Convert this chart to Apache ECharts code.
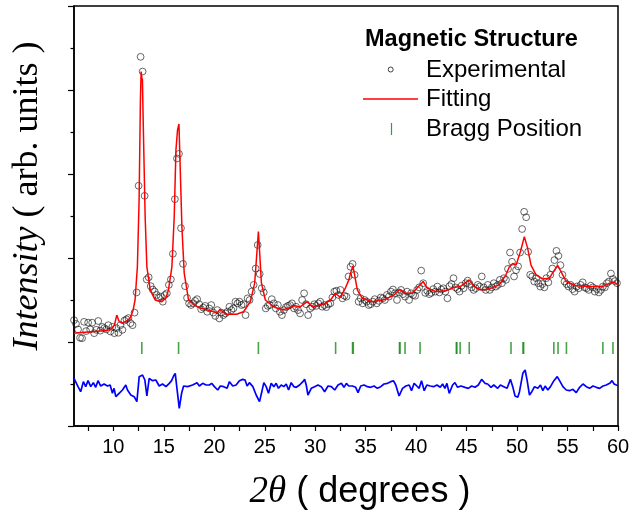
<!DOCTYPE html>
<html>
<head>
<meta charset="utf-8">
<script src="https://cdn.jsdelivr.net/npm/echarts/dist/echarts.min.js"></script>
<style>
html,body{margin:0;padding:0;background:#fff;}
#chart{width:635px;height:514px;}
</style>
</head>
<body>
<div id="chart"></div>
<script>
// ---- data ----
const X_START = 6.1;   // first measured 2theta
const X_STEP = 0.2;    // measurement step (degrees)
const expY = [
2.52,2.43,2.30,2.10,2.09,2.48,2.26,2.46,2.30,2.46,
2.21,2.29,2.50,2.27,2.36,2.33,2.30,2.40,2.25,2.36,
2.21,2.33,2.22,2.40,2.29,2.51,2.54,2.57,2.45,2.40,
2.70,3.18,5.72,8.79,8.44,5.48,3.49,3.54,3.33,3.25,
3.20,3.12,3.05,3.08,2.96,3.12,3.16,3.36,3.49,4.10,
5.40,6.37,6.48,4.71,3.86,3.33,3.05,2.92,2.88,2.92,
2.98,3.02,2.90,2.78,2.82,2.86,2.72,2.80,2.88,2.70,
2.62,2.76,2.56,2.70,2.64,2.68,2.72,2.84,2.76,2.80,
2.96,2.92,2.96,2.88,2.90,2.64,3.04,3.00,3.20,3.36,
3.75,4.31,3.62,3.28,3.18,2.80,2.86,2.88,3.02,2.92,
2.80,2.88,2.72,2.64,2.76,2.83,2.86,2.88,2.92,2.80,
2.84,2.76,2.68,3.00,3.16,2.90,2.64,2.80,2.84,2.90,
2.86,2.92,2.96,2.84,2.88,2.83,2.90,2.92,3.06,3.20,
3.22,3.12,3.24,3.04,3.10,3.08,3.56,3.79,3.86,3.60,
3.20,2.96,3.04,2.92,3.00,2.96,2.88,2.90,2.96,3.02,
2.92,2.98,3.06,3.04,3.00,3.12,3.08,3.20,3.25,3.16,
3.00,3.18,3.24,3.14,3.08,3.20,3.00,3.16,3.12,3.10,
3.24,3.30,3.70,3.40,3.17,3.22,3.14,3.17,3.26,3.20,
3.32,3.18,3.25,3.28,3.20,3.04,3.33,3.38,3.52,3.30,
3.26,3.20,3.34,3.28,3.40,3.46,3.38,3.30,3.24,3.28,
3.36,3.32,3.56,3.30,3.24,3.36,3.24,3.30,3.40,3.32,
3.36,3.48,3.40,3.52,3.48,3.74,4.13,3.91,3.56,3.71,
3.80,4.13,4.69,5.10,4.97,4.15,3.60,3.56,3.44,3.52,
3.40,3.32,3.38,3.30,3.52,3.42,3.60,3.75,3.95,4.17,
4.05,3.83,3.60,3.44,3.38,3.32,3.36,3.26,3.20,3.32,
3.28,3.36,3.42,3.30,3.28,3.24,3.34,3.30,3.20,3.26,
3.18,3.24,3.32,3.30,3.40,3.44,3.63,3.50,3.45,3.40
];
const fitPts = [
[6.1,2.21],[7.5,2.24],[9.0,2.27],[9.7,2.29],[10.1,2.40],[10.34,2.64],[10.55,2.50],[10.83,2.45],[11.3,2.50],[11.66,2.57],
[11.95,2.75],[12.15,3.0],[12.38,3.79],[12.55,5.38],[12.68,7.76],[12.75,8.44],[12.82,8.30],[12.88,8.24],[12.98,6.97],[13.15,4.98],
[13.32,3.79],[13.65,3.24],[14.14,3.0],[14.8,2.96],[15.2,3.05],[15.46,3.24],[15.8,3.79],[16.03,4.98],[16.2,6.57],[16.36,7.05],
[16.5,7.19],[16.62,6.17],[16.79,4.75],[17.02,3.64],[17.45,3.0],[18.0,2.88],[18.6,2.81],[19.93,2.72],[20.3,2.70],[20.6,2.78],
[20.9,2.70],[21.26,2.66],[22.2,2.66],[22.9,2.72],[23.58,2.96],[24.0,3.4],[24.24,4.19],[24.37,4.63],[24.5,4.11],[24.67,3.4],
[25.06,3.0],[25.89,2.84],[26.72,2.76],[27.3,2.80],[27.88,2.86],[28.54,2.84],[29.2,2.96],[29.7,2.84],[30.85,2.90],[31.52,3.0],
[32.0,3.16],[32.5,3.06],[33.0,3.29],[33.33,3.48],[33.5,3.64],[33.73,3.81],[33.93,3.56],[34.17,3.24],[34.67,3.04],[35.66,2.96],
[36.98,3.02],[37.81,3.12],[38.37,3.25],[38.97,3.16],[39.63,3.16],[40.23,3.32],[40.69,3.44],[41.12,3.28],[41.95,3.2],[42.94,3.22],
[43.77,3.30],[44.43,3.33],[45.25,3.48],[45.75,3.32],[46.4,3.24],[47.24,3.26],[48.23,3.36],[48.9,3.6],[49.24,3.79],[49.57,3.87],
[49.9,3.83],[50.33,4.15],[50.72,4.51],[51.05,4.23],[51.38,3.83],[51.88,3.6],[52.54,3.5],[53.2,3.52],[53.7,3.71],[54.03,3.82],
[54.46,3.63],[54.86,3.44],[55.85,3.34],[57.17,3.32],[58.5,3.32],[59.16,3.4],[59.65,3.42],[60.0,3.36]
];
const braggPos = [12.82,16.46,24.37,32.02,33.70,33.77,38.35,38.40,38.90,40.39,43.98,44.03,44.36,45.26,49.40,50.59,50.65,53.64,54.06,54.89,58.50,59.50];
const braggLevel = 1.857;
const diffPts = [
[6.10,1.135],[6.27,1.175],[6.50,0.937],[6.76,0.817],[7.03,1.056],[7.26,0.937],[7.49,1.079],[7.76,0.937],[8.02,1.032],[8.25,0.921],
[8.48,1.079],[8.75,0.952],[9.08,1.0],[9.41,0.952],[9.68,0.976],[9.91,0.778],[10.07,0.897],[10.24,0.698],[10.57,0.778],[10.90,0.857],
[11.23,0.976],[11.40,0.857],[11.73,0.738],[12.06,0.698],[12.33,0.579],[12.56,1.175],[12.89,1.214],[13.12,1.095],[13.32,0.714],[13.55,1.135],
[13.88,1.079],[14.21,1.095],[14.54,0.952],[14.87,1.0],[15.21,0.937],[15.54,1.016],[15.77,1.079],[15.97,1.19],[16.13,1.254],[16.30,0.897],
[16.53,0.421],[16.76,0.778],[16.96,0.952],[17.36,0.937],[17.85,0.976],[18.29,1.032],[18.52,0.952],[18.85,1.016],[19.18,0.976],[19.51,0.976],
[19.74,1.016],[20.01,0.937],[20.34,0.857],[20.60,0.952],[20.93,0.937],[21.27,0.897],[21.50,1.056],[21.83,0.952],[22.16,0.976],[22.49,1.079],
[22.82,1.111],[23.05,1.095],[23.25,0.952],[23.48,1.032],[23.82,0.937],[24.15,0.738],[24.48,0.579],[24.71,0.817],[24.91,1.032],[25.14,0.937],
[25.37,0.778],[25.64,1.016],[25.90,0.937],[26.13,1.016],[26.36,0.897],[26.63,0.976],[26.89,0.937],[27.13,1.0],[27.36,0.857],[27.62,1.032],
[27.89,0.937],[28.12,0.921],[28.45,0.976],[28.78,1.056],[28.95,1.111],[29.11,0.976],[29.28,0.738],[29.61,0.897],[29.94,0.937],[30.27,0.976],
[30.60,0.937],[30.93,0.817],[31.27,0.952],[31.60,0.937],[31.93,0.857],[32.26,0.976],[32.59,1.016],[32.85,0.921],[33.09,1.016],[33.32,0.952],
[33.42,0.937],[33.68,0.952],[34.01,0.921],[34.24,0.794],[34.51,0.952],[34.84,0.976],[35.17,0.937],[35.50,0.921],[35.83,0.952],[36.16,0.897],
[36.49,0.937],[36.82,1.0],[37.16,1.016],[37.49,1.056],[37.75,1.079],[37.98,0.976],[38.31,0.714],[38.65,0.897],[38.98,0.952],[39.31,0.976],
[39.54,0.841],[39.80,1.016],[40.07,0.952],[40.30,0.897],[40.53,1.079],[40.80,0.841],[41.06,0.976],[41.39,0.952],[41.73,0.937],[42.06,0.976],
[42.39,0.921],[42.62,1.0],[42.85,0.897],[43.05,1.016],[43.28,0.778],[43.61,0.976],[43.84,1.032],[44.11,0.921],[44.44,0.952],[44.84,0.921],
[45.17,0.897],[45.50,0.952],[45.83,0.921],[46.16,0.976],[46.49,1.111],[46.82,1.016],[47.09,1.0],[47.42,0.921],[47.69,0.976],[47.82,1.016],
[48.08,0.897],[48.35,0.976],[48.68,0.937],[49.01,0.897],[49.34,1.111],[49.57,0.937],[49.80,0.714],[50.07,0.683],[50.24,0.817],[50.57,1.254],
[50.80,1.333],[51.00,1.079],[51.23,0.738],[51.46,0.817],[51.73,0.937],[52.06,0.897],[52.32,0.976],[52.55,0.841],[52.78,0.952],[53.05,0.857],
[53.31,0.937],[53.65,1.079],[53.98,1.175],[54.21,1.079],[54.54,0.937],[54.87,0.857],[55.20,0.841],[55.53,0.873],[55.86,0.794],[56.20,0.921],
[56.53,1.0],[56.86,0.937],[57.19,0.897],[57.52,0.952],[57.85,0.921],[58.18,0.897],[58.51,0.952],[58.84,0.976],[59.18,1.016],[59.41,1.079],
[59.61,1.0],[59.84,0.976],[60.0,0.960]
];
const xTickValues = [7.5,10,12.5,15,17.5,20,22.5,25,27.5,30,32.5,35,37.5,40,42.5,45,47.5,50,52.5,55,57.5,60];
const xLabelValues = [10,15,20,25,30,35,40,45,50,55,60];
const legendTitle = 'Magnetic Structure';
const legendNames = ['Experimental','Fitting','Bragg Position'];

// ---- chart ----
const expData = expY.map((y, i) => [+(X_START + i * X_STEP).toFixed(2), y]);
const braggData = braggPos.map(p => [p, braggLevel]);

const chart = echarts.init(document.getElementById('chart'), null, {renderer: 'canvas'});
const sans = 'Liberation Sans, Arial, sans-serif';
const serif = 'Liberation Serif, Times New Roman, serif';

chart.setOption({
  animation: false,
  backgroundColor: '#fff',
  grid: {left: 74, right: 17, top: 6, bottom: 88, show: true, borderColor: '#000', borderWidth: 1.5, backgroundColor: 'transparent'},
  xAxis: {
    type: 'value', min: 6.1, max: 60,
    axisLine: {show: true, onZero: false, lineStyle: {color: '#000', width: 1.5}},
    axisTick: {show: true, inside: false, length: 5, customValues: xTickValues, lineStyle: {color: '#000', width: 1.2}},
    axisLabel: {show: true, customValues: xLabelValues, margin: 11, fontSize: 20, fontFamily: sans, color: '#000'},
    splitLine: {show: false}
  },
  yAxis: {
    type: 'value', min: 0, max: 10, interval: 2,
    axisLine: {show: true, onZero: false, lineStyle: {color: '#000', width: 1.5}},
    axisTick: {show: true, inside: false, length: 6, lineStyle: {color: '#000', width: 1.2}},
    minorTick: {show: true, splitNumber: 2, length: 3.5, lineStyle: {color: '#000', width: 1.2}},
    axisLabel: {show: false},
    splitLine: {show: false},
    minorSplitLine: {show: false}
  },
  series: [
    {
      name: legendNames[0], type: 'scatter', data: expData, symbol: 'circle', symbolSize: 6.8, z: 2,
      itemStyle: {color: 'rgba(0,0,0,0)', borderColor: '#111', borderWidth: 0.8}
    },
    {
      name: legendNames[1], type: 'line', data: fitPts, showSymbol: false, z: 3,
      lineStyle: {color: '#ff0000', width: 1.5}
    },
    {
      name: legendNames[2], type: 'scatter', data: braggData, symbol: 'rect', symbolSize: [1.6, 12], z: 2,
      itemStyle: {color: '#1b8c1b'}
    },
    {
      name: 'Difference', type: 'line', data: diffPts, showSymbol: false, z: 3,
      lineStyle: {color: '#0000ff', width: 1.7}
    }
  ],
  graphic: [
    {type: 'text', x: 365, y: 40, style: {text: legendTitle, font: 'bold 23.5px ' + sans, fill: '#000', align: 'left', verticalAlign: 'middle'}},
    {type: 'circle', shape: {cx: 390.7, cy: 69.5, r: 2.5}, style: {fill: 'none', stroke: '#111', lineWidth: 0.8}},
    {type: 'text', x: 426, y: 70, style: {text: legendNames[0], font: '24px ' + sans, fill: '#000', align: 'left', verticalAlign: 'middle'}},
    {type: 'line', shape: {x1: 363, y1: 99, x2: 418, y2: 99}, style: {stroke: '#ff0000', lineWidth: 1.5}},
    {type: 'text', x: 426, y: 99, style: {text: legendNames[1], font: '24px ' + sans, fill: '#000', align: 'left', verticalAlign: 'middle'}},
    {type: 'line', shape: {x1: 391.5, y1: 123, x2: 391.5, y2: 135}, style: {stroke: '#3a9a3a', lineWidth: 1.2}},
    {type: 'text', x: 426, y: 129, style: {text: legendNames[2], font: '24px ' + sans, fill: '#000', align: 'left', verticalAlign: 'middle'}},
    {type: 'text', x: 360, y: 492, style: {
      text: '{a|2θ}{b| ( degrees )}', align: 'center', verticalAlign: 'middle', fill: '#000',
      rich: {a: {fontFamily: serif, fontStyle: 'italic', fontSize: 37, fill: '#000'}, b: {fontFamily: sans, fontSize: 36, fill: '#000'}}
    }},
    {type: 'text', x: 28, y: 196, rotation: Math.PI / 2, style: {
      text: '{a|Intensity}{b| ( arb. units )}', align: 'center', verticalAlign: 'middle', fill: '#000',
      rich: {a: {fontFamily: serif, fontStyle: 'italic', fontSize: 36, fill: '#000'}, b: {fontFamily: serif, fontSize: 36, fill: '#000'}}
    }}
  ]
});
</script>
</body>
</html>
